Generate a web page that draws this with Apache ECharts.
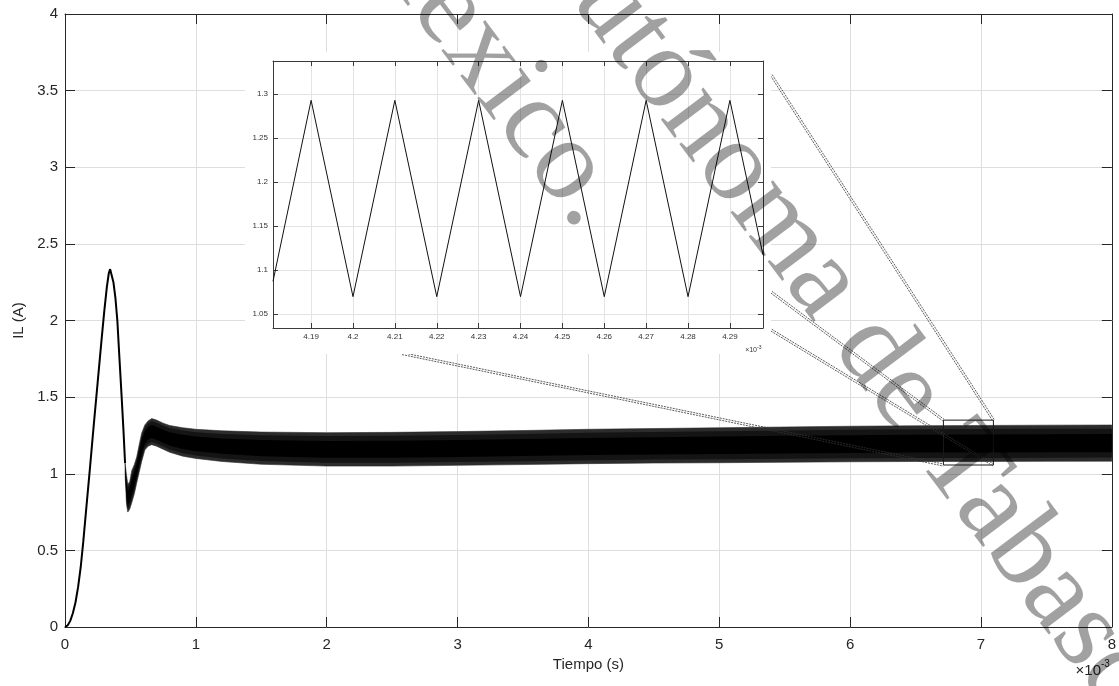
<!DOCTYPE html>
<html>
<head>
<meta charset="utf-8">
<script src="https://cdn.jsdelivr.net/npm/echarts@6/dist/echarts.min.js"></script>
<style>
html,body{margin:0;padding:0;background:#fff;}
#c{width:1119px;height:686px;}
</style>
</head>
<body>
<div id="c"></div>
<script>
// ---------- data (time in units of 1e-3 s, current in A) ----------
// start-up transient (single trace before switching ripple becomes visible)
const startX = [0, 0.02, 0.04, 0.06, 0.08, 0.10, 0.12, 0.14, 0.16, 0.19, 0.22, 0.25, 0.28, 0.30, 0.32, 0.335, 0.345, 0.355, 0.37, 0.385, 0.40, 0.415, 0.433, 0.447, 0.459];
const startY = [0, 0.01, 0.04, 0.09, 0.16, 0.26, 0.39, 0.56, 0.75, 1.03, 1.32, 1.60, 1.88, 2.06, 2.22, 2.31, 2.335, 2.325, 2.25, 2.15, 2.00, 1.77, 1.50, 1.28, 1.07];
// envelope of the switching-ripple band
const envX     = [0.459, 0.47, 0.48, 0.495, 0.51, 0.53, 0.548, 0.567, 0.586, 0.61, 0.635, 0.663, 0.70, 0.75, 0.80, 0.90, 1.0, 1.2, 1.5, 2.0, 2.5, 3.0, 3.5, 4.0, 4.5, 5.0, 5.5, 6.0, 6.5, 7.0, 7.5, 8.0];
const envUpper = [1.07, 0.99, 0.93, 0.95, 1.02, 1.06, 1.11, 1.19, 1.265, 1.318, 1.345, 1.36, 1.35, 1.33, 1.315, 1.30, 1.29, 1.28, 1.272, 1.268, 1.27, 1.275, 1.282, 1.29, 1.295, 1.30, 1.305, 1.31, 1.313, 1.315, 1.317, 1.318];
const envLower = [1.00, 0.80, 0.75, 0.77, 0.81, 0.87, 0.94, 1.01, 1.08, 1.155, 1.18, 1.19, 1.18, 1.16, 1.14, 1.115, 1.10, 1.08, 1.062, 1.05, 1.05, 1.055, 1.06, 1.066, 1.07, 1.072, 1.075, 1.078, 1.08, 1.08, 1.081, 1.082];
// zoomed inset trace
const insetX = [4.1809, 4.19, 4.20, 4.21, 4.22, 4.23, 4.24, 4.25, 4.26, 4.27, 4.28, 4.29, 4.2979];
const insetY = [1.087, 1.293, 1.0695, 1.293, 1.0695, 1.293, 1.0695, 1.293, 1.0695, 1.293, 1.0695, 1.293, 1.117];
// tick labels
const insetXTicks = [4.19, 4.20, 4.21, 4.22, 4.23, 4.24, 4.25, 4.26, 4.27, 4.28, 4.29];
const insetYTicks = [1.05, 1.10, 1.15, 1.20, 1.25, 1.30];
// zoom annotation (main-axis data coordinates)
const zoomBoxX = [6.713, 7.095];
const zoomBoxY = [1.057, 1.35];
const connectors = [
  [5.398, 3.601, 7.095, 1.35],
  [5.398, 2.185, 6.713, 1.35],
  [5.398, 1.937, 7.095, 1.057],
  [2.577, 1.784, 6.713, 1.057]
];

// ---------- styling ----------
const axisColor = '#262626';
const gridColor = '#dedede';
const FONT = '"Liberation Sans", Arial, Helvetica, sans-serif';
const SERIF = '"Liberation Serif", "Times New Roman", serif';

const chart = echarts.init(document.getElementById('c'), null, {renderer: 'canvas'});

const mainAxisCommon = {
  type: 'value',
  gridIndex: 0,
  axisLine: {show: true, onZero: false, lineStyle: {color: axisColor, width: 1}},
  axisTick: {show: true, inside: true, length: 10, lineStyle: {color: axisColor, width: 1}},
  z: 0
};
const insetAxisCommon = {
  type: 'value',
  gridIndex: 1,
  axisLine: {show: true, onZero: false, lineStyle: {color: '#3a3a3a', width: 1}},
  axisTick: {show: true, inside: true, length: 5, lineStyle: {color: '#3a3a3a', width: 1}},
  z: 6
};

function bandPolygon(api, f0, f1) {
  const top = [], bot = [];
  for (let i = 0; i < envX.length; i++) {
    const d = envUpper[i] - envLower[i];
    top.push(api.coord([envX[i], envLower[i] + d * f1]));
    bot.push(api.coord([envX[i], envLower[i] + d * f0]));
  }
  return top.concat(bot.reverse());
}

const option = {
  animation: false,
  backgroundColor: '#ffffff',
  grid: [
    {left: 65, right: 7, top: 14, bottom: 59},
    {left: 273, top: 61, width: 490, height: 267, z: 6}
  ],
  xAxis: [
    Object.assign({}, mainAxisCommon, {
      position: 'bottom', min: 0, max: 8, interval: 1,
      name: 'Tiempo (s)', nameLocation: 'middle', nameGap: 27,
      nameTextStyle: {fontSize: 15, color: axisColor, fontFamily: FONT},
      axisLabel: {fontSize: 15, color: axisColor, margin: 10, fontFamily: FONT},
      splitLine: {show: true, lineStyle: {color: gridColor, width: 1}}
    }),
    Object.assign({}, mainAxisCommon, {
      position: 'top', min: 0, max: 8, interval: 1,
      axisLabel: {show: false}, splitLine: {show: false}
    }),
    Object.assign({}, insetAxisCommon, {
      position: 'bottom', min: 4.1809, max: 4.2979,
      axisTick: Object.assign({}, insetAxisCommon.axisTick, {customValues: insetXTicks}),
      axisLabel: {customValues: insetXTicks, fontSize: 8, color: '#333', margin: 5, fontFamily: FONT},
      splitLine: {show: true, lineStyle: {color: '#e4e4e4', width: 1}}
    }),
    Object.assign({}, insetAxisCommon, {
      position: 'top', min: 4.1809, max: 4.2979,
      axisTick: Object.assign({}, insetAxisCommon.axisTick, {customValues: insetXTicks}),
      axisLabel: {show: false}, splitLine: {show: false}
    })
  ],
  yAxis: [
    Object.assign({}, mainAxisCommon, {
      position: 'left', min: 0, max: 4, interval: 0.5,
      name: 'IL (A)', nameLocation: 'middle', nameGap: 38, nameRotate: 90,
      nameTextStyle: {fontSize: 15, color: axisColor, fontFamily: FONT},
      axisLabel: {fontSize: 15, color: axisColor, margin: 7, fontFamily: FONT},
      splitLine: {show: true, lineStyle: {color: gridColor, width: 1}}
    }),
    Object.assign({}, mainAxisCommon, {
      position: 'right', min: 0, max: 4, interval: 0.5,
      axisLabel: {show: false}, splitLine: {show: false}
    }),
    Object.assign({}, insetAxisCommon, {
      position: 'left', min: 1.0338, max: 1.3378,
      axisTick: Object.assign({}, insetAxisCommon.axisTick, {customValues: insetYTicks}),
      axisLabel: {customValues: insetYTicks, fontSize: 8, color: '#333', margin: 5, fontFamily: FONT},
      splitLine: {show: true, lineStyle: {color: '#e4e4e4', width: 1}}
    }),
    Object.assign({}, insetAxisCommon, {
      position: 'right', min: 1.0338, max: 1.3378,
      axisTick: Object.assign({}, insetAxisCommon.axisTick, {customValues: insetYTicks}),
      axisLabel: {show: false}, splitLine: {show: false}
    })
  ],
  series: [
    {
      type: 'line', xAxisIndex: 0, yAxisIndex: 0, z: 3,
      data: startX.map((x, i) => [x, startY[i]]),
      showSymbol: false, symbol: 'none',
      lineStyle: {color: '#000', width: 2}
    },
    {
      type: 'custom', xAxisIndex: 0, yAxisIndex: 0, z: 3,
      data: [[envX[0], envUpper[0], envLower[0]]],
      encode: {x: 0, y: [1, 2]},
      renderItem: function (params, api) {
        return {
          type: 'group',
          children: [
            {type: 'polygon', shape: {points: bandPolygon(api, 0, 1)}, style: {fill: '#2c2c2c', stroke: '#2c2c2c', lineWidth: 0.6}},
            {type: 'polygon', shape: {points: bandPolygon(api, 0.1, 0.9)}, style: {fill: '#141414'}},
            {type: 'polygon', shape: {points: bandPolygon(api, 0.25, 0.75)}, style: {fill: '#000000'}}
          ]
        };
      }
    },
    {
      type: 'custom', xAxisIndex: 0, yAxisIndex: 0, z: 4,
      data: [[zoomBoxX[0], zoomBoxY[0], zoomBoxX[1], zoomBoxY[1]]],
      renderItem: function (params, api) {
        const a = api.coord([zoomBoxX[0], zoomBoxY[1]]);
        const b = api.coord([zoomBoxX[1], zoomBoxY[0]]);
        return {
          type: 'rect',
          shape: {x: a[0], y: a[1], width: b[0] - a[0], height: b[1] - a[1]},
          style: {fill: 'none', stroke: '#1a1a1a', lineWidth: 1}
        };
      }
    },
    {
      type: 'custom', xAxisIndex: 0, yAxisIndex: 0, z: 4,
      data: connectors,
      renderItem: function (params, api) {
        const c = connectors[params.dataIndex];
        const a = api.coord([c[0], c[1]]);
        const b = api.coord([c[2], c[3]]);
        const dx = b[0] - a[0], dy = b[1] - a[1];
        const L = Math.hypot(dx, dy);
        const nx = -dy / L, ny = dx / L;
        const mk = function (s) {
          return {
            type: 'line',
            shape: {x1: a[0] + s * nx, y1: a[1] + s * ny, x2: b[0] + s * nx, y2: b[1] + s * ny},
            style: {stroke: '#333', lineWidth: 0.8, lineDash: [2, 1]}
          };
        };
        return {type: 'group', children: [mk(1), mk(-1)]};
      }
    },
    {
      type: 'line', xAxisIndex: 2, yAxisIndex: 2, z: 7,
      data: insetX.map((x, i) => [x, insetY[i]]),
      showSymbol: false, symbol: 'none',
      lineStyle: {color: '#111', width: 1}
    }
  ],
  graphic: {
    elements: [
      {type: 'rect', z: 5, shape: {x: 245, y: 52, width: 526, height: 302}, style: {fill: '#ffffff'}},
      {type: 'text', z: 10, x: 1101, y: 678, style: {text: '×10', font: '15px ' + FONT, fill: axisColor, textAlign: 'right', textVerticalAlign: 'bottom'}},
      {type: 'text', z: 10, x: 1101, y: 669, style: {text: '-3', font: '10px ' + FONT, fill: axisColor, textAlign: 'left', textVerticalAlign: 'bottom'}},
      {type: 'text', z: 10, x: 757, y: 354, style: {text: '×10', font: '7px ' + FONT, fill: '#333', textAlign: 'right', textVerticalAlign: 'bottom'}},
      {type: 'text', z: 10, x: 757, y: 350, style: {text: '-3', font: '5px ' + FONT, fill: '#333', textAlign: 'left', textVerticalAlign: 'bottom'}},
      {type: 'text', z: 100, x: 544, y: -86, rotation: -53 * Math.PI / 180,
        style: {text: 'Autónoma de Tabasco', font: '116px ' + SERIF, fill: 'rgba(0,0,0,0.37)', textAlign: 'left', textVerticalAlign: 'middle'}},
      {type: 'text', z: 100, x: 372, y: -92, rotation: -53 * Math.PI / 180,
        style: {text: 'México.', font: '116px ' + SERIF, fill: 'rgba(0,0,0,0.37)', textAlign: 'left', textVerticalAlign: 'middle'}}
    ]
  }
};

chart.setOption(option);
</script>
</body>
</html>
